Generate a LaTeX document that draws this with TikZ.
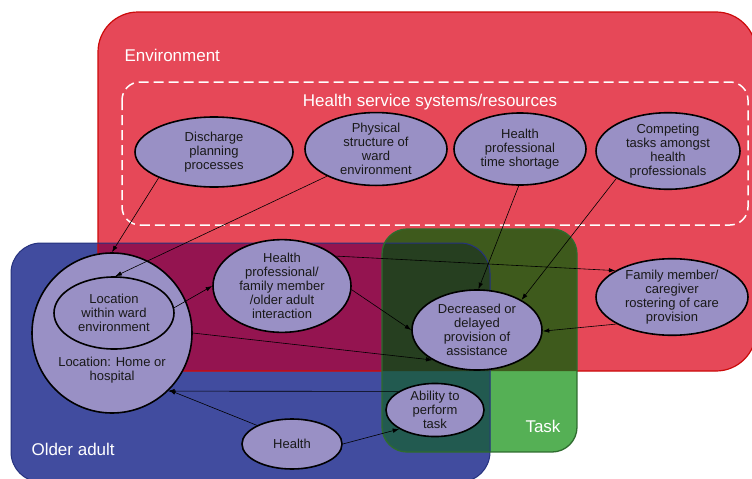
\documentclass[tikz,border=0pt]{standalone}
\usepackage{fontspec}
\setmainfont{Liberation Sans}
\usetikzlibrary{shapes.geometric,arrows.meta}
\definecolor{envred}{HTML}{E64858}
\definecolor{envedge}{HTML}{CC0A0A}
\definecolor{oablue}{HTML}{414C9F}
\definecolor{oaedge}{HTML}{26327E}
\definecolor{overlapmag}{HTML}{941450}
\definecolor{taskgreen}{HTML}{55B055}
\definecolor{greenred}{HTML}{3E5A1C}
\definecolor{greenblue}{HTML}{225A50}
\definecolor{greenredblue}{HTML}{263F20}
\definecolor{taskedge}{HTML}{2E6B2E}
\definecolor{ellfill}{HTML}{9990C5}
\begin{document}
\begin{tikzpicture}[x=1pt,y=-1pt,
  ell/.style={ellipse, draw=black, line width=1.6pt, fill=ellfill, inner sep=0pt, align=center, font=\fontsize{13}{14}\selectfont, text=black!90},
  arr/.style={-{Latex[length=6.5pt,width=4.5pt]}, line width=0.6pt},
  biglab/.style={text=white, font=\fontsize{17}{20}\selectfont}]
\useasboundingbox (0,0) rectangle (752,479);
% regions
\fill[oablue, rounded corners=30pt] (11,243) rectangle (490,482);
\fill[envred, rounded corners=40pt] (98,12) rectangle (756,371);
\begin{scope}
  \clip[rounded corners=30pt] (11,243) rectangle (490,482);
  \fill[overlapmag, rounded corners=40pt] (98,12) rectangle (756,371);
\end{scope}
\draw[envedge, line width=1.2pt, rounded corners=40pt] (98,12) rectangle (756,371);
\begin{scope}
  \clip[rounded corners=25pt] (382,229) rectangle (577,452);
  \fill[taskgreen] (382,229) rectangle (577,452);
  \fill[greenred, rounded corners=40pt] (98,12) rectangle (756,371);
  \fill[greenblue, rounded corners=30pt] (11,243) rectangle (490,482);
  \clip[rounded corners=30pt] (11,243) rectangle (490,482);
  \fill[greenredblue, rounded corners=40pt] (98,12) rectangle (756,371);
\end{scope}
\draw[oaedge, line width=1pt, rounded corners=30pt] (11,243) rectangle (490,482);
\draw[taskedge, line width=1.3pt, rounded corners=25pt] (382,229) rectangle (577,452);
\draw[white, line width=1.5pt, dash pattern=on 10pt off 5pt, rounded corners=18pt] (122,82) rectangle (748,225);
% region labels
\node[biglab, anchor=west] (envlab) at (121,55) {Environment};
\node[biglab] (hslab) at (430,102) {Health service systems/resources};
\node[biglab, anchor=west] (oalab) at (28,449) {Older adult};
\node[biglab] (tasklab) at (543,426) {Task};
% nodes
\node[ell, minimum width=158pt, minimum height=70pt] (disc) at (214,152) {Discharge\\planning\\processes};
\node[ell, minimum width=142pt, minimum height=70pt] (phys) at (376,149) {Physical\\structure of\\ward\\environment};
\node[ell, minimum width=132pt, minimum height=72pt] (time) at (520,149) {Health\\professional\\time shortage};
\node[ell, minimum width=144pt, minimum height=72pt] (comp) at (668,151) {Competing\\tasks amongst\\health\\professionals};
\node[circle, draw=black, fill=ellfill, line width=1.6pt, minimum size=160pt, inner sep=0pt] (home) at (112,333) {};
\node[align=center, font=\fontsize{13}{14}\selectfont, text=black!90] (hometext) at (112,370) {Location: Home or\\hospital};
\node[ell, minimum width=120pt, minimum height=72pt] (ward) at (114,313) {Location\\within ward\\environment};
\node[ell, minimum width=138pt, minimum height=80pt] (inter) at (282,286) {Health\\professional/\\family member\\/older adult\\interaction};
\node[ell, minimum width=130pt, minimum height=80pt] (dec) at (477,330) {Decreased or\\delayed\\provision of\\assistance};
\node[ell, minimum width=152pt, minimum height=70pt] (fam) at (672,297) {Family member/\\caregiver\\rostering of care\\provision};
\node[ell, minimum width=98pt, minimum height=50pt] (abil) at (435,410) {Ability to\\perform\\task};
\node[ell, minimum width=100pt, minimum height=50pt] (health) at (292,444) {Health};
% connectors
\draw[arr] (disc.205) -- (home.90);
\draw[arr] (phys.209) -- (ward.88);
\draw[arr] (time.268) -- (dec.88);
\draw[arr] (comp.208) -- (dec.34);
\draw[arr] (ward.5) -- (inter.180);
\draw[arr] (inter.-3) -- (dec.180);
\draw[arr] (inter.29) -- (fam.155);
\draw[arr] (home.0) -- (dec.214);
\draw[arr] (fam.206) -- (dec.-1);
\draw[arr] (abil.153) -- (home.-46);
\draw[arr] (health.152) -- (home.-45);
\draw[arr] (health.0) -- (abil.208);
\end{tikzpicture}
\end{document}
